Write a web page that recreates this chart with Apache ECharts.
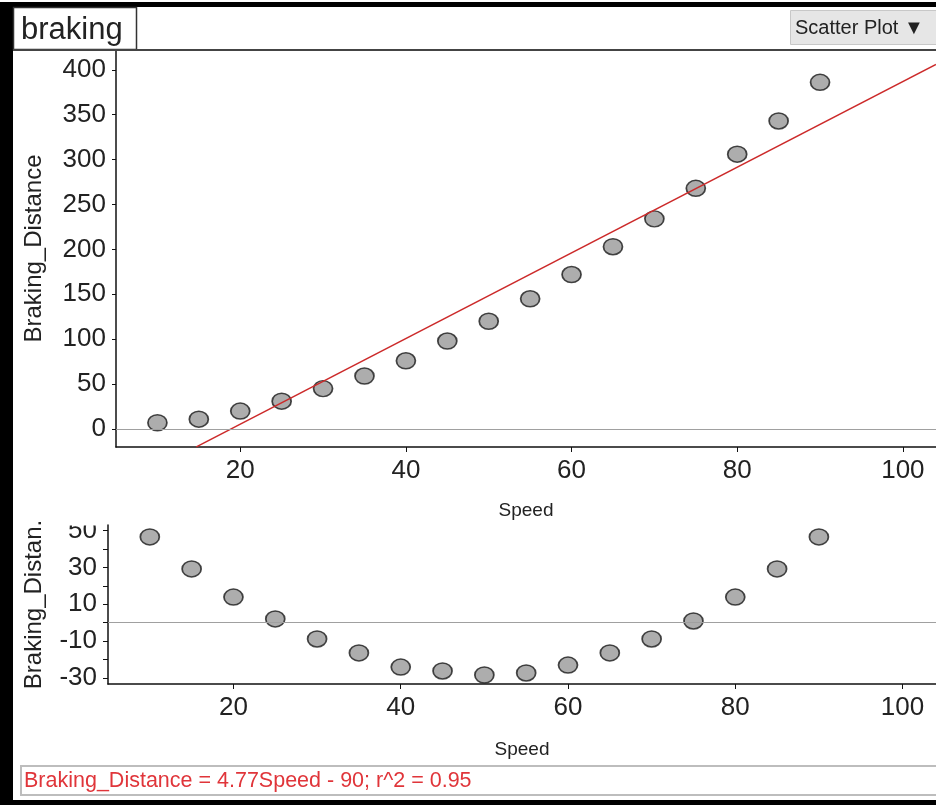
<!DOCTYPE html>
<html><head><meta charset="utf-8">
<script src="https://cdn.jsdelivr.net/npm/echarts@6/dist/echarts.min.js"></script>
<style>html,body{margin:0;padding:0;background:#fff}#c{width:936px;height:805px}</style>
</head><body><div id="c"></div>
<script>
const speed = [10,15,20,25,30,35,40,45,50,55,60,65,70,75,80,85,90];
const brakingDistance = [7,11,20,31,45,59,76,98,120,145,172,203,234,268,306,343,386];
const residuals = [46.6,29.2,13.9,2,-8.9,-16.5,-24.2,-26.3,-28.5,-27.4,-23.1,-16.5,-8.9,0.9,13.9,29.2,46.6];
const fitSlope = 4.77, fitIntercept = -90;
const fitLineX = [14.7, 104];
const xTicks = [20,40,60,80,100];
const yTicksTop = [0,50,100,150,200,250,300,350,400];
const yTicksBottom = [-30,-20,-10,0,10,20,30,40,50];
const yLabelsBottom = [-30,-10,10,30,50];
const equationText = 'Braking_Distance = 4.77Speed - 90; r^2 = 0.95';

const FONT = 'Liberation Sans, Arial, sans-serif';
const TXT = '#222';
const chart = echarts.init(document.getElementById('c'));
const axisLine = {show:true, onZero:false, lineStyle:{color:'#111', width:1.5}};
function xAxis(gi){
  return {type:'value', gridIndex:gi, min:5, max:104, name:'Speed', nameLocation:'middle',
    nameGap: gi===0?54:56, nameTextStyle:{fontFamily:FONT, fontSize:19, color:TXT},
    axisLine: axisLine, splitLine:{show:false},
    axisTick:{show:true, length:5, customValues:xTicks, lineStyle:{color:'#111'}},
    axisLabel:{fontFamily:FONT, fontSize:26, color:TXT, margin:11, customValues:xTicks}};
}
const pointStyle = {color:'#999999', borderColor:'#1a1a1a', borderWidth:1.6};
const zeroLine = {silent:true, symbol:'none', label:{show:false},
  lineStyle:{color:'#a0a0a0', type:'solid', width:1.2}, data:[{yAxis:0}], animation:false};
chart.setOption({
  animation:false,
  backgroundColor:'#fff',
  grid:[
    {left:116, top:50, right:0, height:397},
    {left:108, top:525, right:0, height:159}
  ],
  xAxis:[xAxis(0), xAxis(1)],
  yAxis:[
    {type:'value', gridIndex:0, min:-20, max:422, name:'Braking_Distance', nameLocation:'middle', nameGap:70,
     nameTextStyle:{fontFamily:FONT, fontSize:24, color:TXT},
     axisLine:axisLine, splitLine:{show:false},
     axisTick:{show:true, length:4, customValues:yTicksTop, lineStyle:{color:'#111'}},
     axisLabel:{fontFamily:FONT, fontSize:26, color:TXT, margin:10, customValues:yTicksTop}},
    {type:'value', gridIndex:1, min:-33.4, max:53.1, name:'Braking_Distan.', nameLocation:'middle', nameGap:62,
     nameTextStyle:{fontFamily:FONT, fontSize:24, color:TXT},
     axisLine:axisLine, splitLine:{show:false},
     axisTick:{show:true, length:5, customValues:yTicksBottom, lineStyle:{color:'#111'}},
     axisLabel:{fontFamily:FONT, fontSize:26, color:TXT, margin:11, customValues:yLabelsBottom}}
  ],
  series:[
    {type:'scatter', xAxisIndex:0, yAxisIndex:0, symbol:'circle', symbolSize:[19,16],
     data: speed.map((s,i)=>[s, brakingDistance[i]]), itemStyle:pointStyle, markLine:zeroLine, z:3},
    {type:'line', xAxisIndex:0, yAxisIndex:0, showSymbol:false, symbol:'none', clip:true,
     data: fitLineX.map(x=>[x, fitSlope*x + fitIntercept]),
     lineStyle:{color:'#cc2a2a', width:1.5}, z:4},
    {type:'scatter', xAxisIndex:1, yAxisIndex:1, symbol:'circle', symbolSize:[19,16],
     data: speed.map((s,i)=>[s, residuals[i]]), itemStyle:pointStyle, markLine:zeroLine, z:3}
  ],
  graphic:[
    {type:'rect', z:100, shape:{x:50, y:498, width:56, height:27.5}, style:{fill:'#fff'}},
    {type:'rect', z:100, shape:{x:0, y:2, width:936, height:5}, style:{fill:'#000'}},
    {type:'rect', z:100, shape:{x:0, y:2, width:13, height:803}, style:{fill:'#000'}},
    {type:'rect', z:100, shape:{x:0, y:800, width:936, height:5}, style:{fill:'#000'}},
    {type:'rect', z:100, shape:{x:13.5, y:7.5, width:123, height:42}, style:{fill:'#fff', stroke:'#333', lineWidth:1.5}},
    {type:'text', z:101, x:21, y:30, style:{text:'braking', font:'31px '+FONT, fill:TXT, verticalAlign:'middle'}},
    {type:'line', z:100, shape:{x1:13, y1:50, x2:936, y2:50}, style:{stroke:'#444', lineWidth:2}},
    {type:'rect', z:100, shape:{x:790.5, y:10.5, width:150, height:34}, style:{fill:'#e6e6e6', stroke:'#c8c8c8', lineWidth:1}},
    {type:'text', z:101, x:795, y:28, style:{text:'Scatter Plot ▼', font:'20px '+FONT, fill:TXT, verticalAlign:'middle'}},
    {type:'rect', z:100, shape:{x:21, y:766, width:920, height:29}, style:{fill:'#fff', stroke:'#bdbdbd', lineWidth:2}},
    {type:'text', z:101, x:24, y:781, style:{text:equationText, font:'21.5px '+FONT, fill:'#e0353a', verticalAlign:'middle'}}
  ]
});
</script></body></html>
